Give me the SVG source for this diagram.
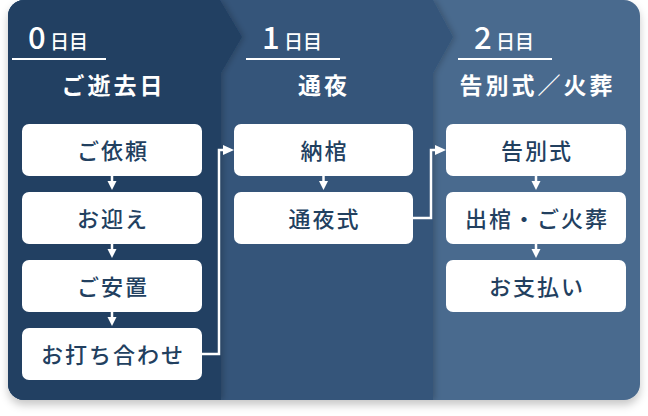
<svg xmlns="http://www.w3.org/2000/svg" width="648" height="416" viewBox="0 0 648 416">
  <defs>
    <style>
      .hd-num { font-family: "Noto Sans CJK JP", "Noto Sans", sans-serif; font-size: 31px; font-weight: 500; fill: #ffffff; }
      .hd-day { font-family: "Noto Sans CJK JP", sans-serif; font-size: 19px; font-weight: 500; fill: #ffffff; }
      .hd-title { font-family: "Noto Sans CJK JP", sans-serif; font-size: 23px; font-weight: 700; fill: #ffffff; letter-spacing: 3px; }
      .uline { stroke: #ffffff; stroke-width: 2; }
      .box { fill: #ffffff; }
      .lbl { font-family: "Noto Sans CJK JP", sans-serif; font-size: 22px; font-weight: 500; fill: #22405f; letter-spacing: 2px; }
      .conn { fill: none; stroke: #ffffff; stroke-width: 2.5; }
      .head { fill: #ffffff; }
    </style>
    <clipPath id="panelClip">
      <rect x="8" y="0" width="632" height="400" rx="16" ry="16"/>
    </clipPath>
    <filter id="panelShadow" x="-5%" y="-5%" width="110%" height="115%">
      <feDropShadow dx="0" dy="5" stdDeviation="4" flood-color="#000000" flood-opacity="0.22"/>
    </filter>
    <filter id="colShadow" x="-5%" y="-5%" width="115%" height="110%">
      <feDropShadow dx="2" dy="0" stdDeviation="3" flood-color="#000000" flood-opacity="0.22"/>
    </filter>
  </defs>

  <g id="panel">
    <rect x="8" y="0" width="632" height="400" rx="16" ry="16" fill="#4a6a8e" filter="url(#panelShadow)"/>
    <g clip-path="url(#panelClip)">
      <path d="M0,0 L433,0 L453,37 L433,73 L433,400 L0,400 Z" fill="#34557a" filter="url(#colShadow)"/>
      <path d="M0,0 L220,0 L242,37 L221,73 L221,400 L0,400 Z" fill="#213f62" filter="url(#colShadow)"/>
    </g>
  </g>

  <g id="header-day0">
    <text x="28" y="49" class="hd-num">0</text>
    <text x="50" y="49" class="hd-day">日目</text>
    <line x1="12" y1="59" x2="106" y2="59" class="uline"/>
    <text x="113.5" y="94" text-anchor="middle" class="hd-title">ご逝去日</text>
  </g>
  <g id="header-day1">
    <text x="262" y="49" class="hd-num">1</text>
    <text x="284" y="49" class="hd-day">日目</text>
    <line x1="246" y1="59" x2="340" y2="59" class="uline"/>
    <text x="324" y="94" text-anchor="middle" class="hd-title">通夜</text>
  </g>
  <g id="header-day2">
    <text x="474" y="49" class="hd-num">2</text>
    <text x="496" y="49" class="hd-day">日目</text>
    <line x1="458" y1="59" x2="552" y2="59" class="uline"/>
    <text x="537.5" y="94" text-anchor="middle" class="hd-title">告別式／火葬</text>
  </g>

  <g id="connectors">
    <line x1="112" y1="176" x2="112" y2="183" class="conn"/>
    <polygon points="107.5,181 116.5,181 112,190" class="head"/>
    <line x1="112" y1="244" x2="112" y2="251" class="conn"/>
    <polygon points="107.5,249 116.5,249 112,258" class="head"/>
    <line x1="112" y1="312" x2="112" y2="319" class="conn"/>
    <polygon points="107.5,317 116.5,317 112,326" class="head"/>

    <line x1="323.5" y1="176" x2="323.5" y2="183" class="conn"/>
    <polygon points="319,181 328,181 323.5,190" class="head"/>

    <line x1="536" y1="176" x2="536" y2="183" class="conn"/>
    <polygon points="531.5,181 540.5,181 536,190" class="head"/>
    <line x1="536" y1="244" x2="536" y2="251" class="conn"/>
    <polygon points="531.5,249 540.5,249 536,258" class="head"/>

    <path d="M202,354 H219 V150 H225" class="conn"/>
    <polygon points="223,145 234,150 223,155" class="head"/>

    <path d="M413,218 H431 V150 H437" class="conn"/>
    <polygon points="435,145 446,150 435,155" class="head"/>
  </g>

  <g id="node-irai">
    <rect x="22" y="124" width="180" height="52" rx="7" class="box"/>
    <text x="113" y="159" text-anchor="middle" class="lbl">ご依頼</text>
  </g>
  <g id="node-omukae">
    <rect x="22" y="192" width="180" height="52" rx="7" class="box"/>
    <text x="113" y="227" text-anchor="middle" class="lbl">お迎え</text>
  </g>
  <g id="node-anchi">
    <rect x="22" y="260" width="180" height="52" rx="7" class="box"/>
    <text x="113" y="295" text-anchor="middle" class="lbl">ご安置</text>
  </g>
  <g id="node-uchiawase">
    <rect x="22" y="328" width="180" height="52" rx="7" class="box"/>
    <text x="113" y="363" text-anchor="middle" class="lbl">お打ち合わせ</text>
  </g>

  <g id="node-nokan">
    <rect x="234" y="124" width="179" height="52" rx="7" class="box"/>
    <text x="324.5" y="159" text-anchor="middle" class="lbl">納棺</text>
  </g>
  <g id="node-tsuyashiki">
    <rect x="234" y="192" width="179" height="52" rx="7" class="box"/>
    <text x="324.5" y="227" text-anchor="middle" class="lbl">通夜式</text>
  </g>

  <g id="node-kokubetsushiki">
    <rect x="446" y="124" width="180" height="52" rx="7" class="box"/>
    <text x="537" y="159" text-anchor="middle" class="lbl">告別式</text>
  </g>
  <g id="node-shukkan">
    <rect x="446" y="192" width="180" height="52" rx="7" class="box"/>
    <text x="537" y="227" text-anchor="middle" class="lbl">出棺・ご火葬</text>
  </g>
  <g id="node-oshiharai">
    <rect x="446" y="260" width="180" height="52" rx="7" class="box"/>
    <text x="537" y="295" text-anchor="middle" class="lbl">お支払い</text>
  </g>
</svg>
